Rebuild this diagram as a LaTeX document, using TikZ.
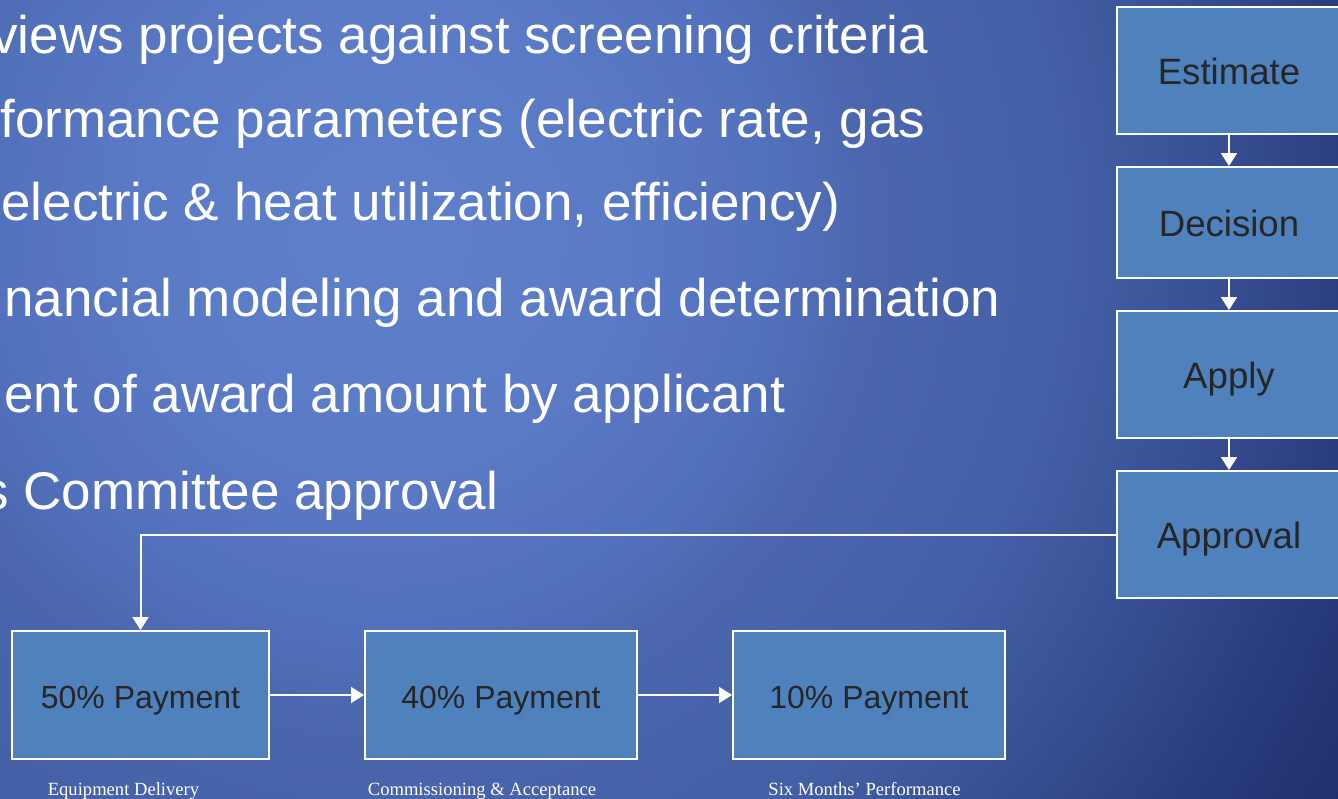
\documentclass[tikz,border=0pt]{standalone}
\usepackage{fontspec}
\setmainfont{Liberation Sans}
\newfontfamily\serifpart{Liberation Serif}
\usetikzlibrary{arrows.meta}
\definecolor{bgA}{RGB}{94,128,202}
\definecolor{bgB}{RGB}{90,122,197}
\definecolor{bgC}{RGB}{86,116,192}
\definecolor{bgD}{RGB}{82,113,188}
\definecolor{bgE}{RGB}{75,102,173}
\definecolor{bgF}{RGB}{68,96,166}
\definecolor{bgG}{RGB}{58,83,152}
\definecolor{bgH}{RGB}{35,53,115}
\definecolor{bgI}{RGB}{29,45,104}
\definecolor{boxfill}{RGB}{79,129,189}
\definecolor{boxtext}{RGB}{38,38,38}
%stops in bp, 25bp = radius of the circle below
\pgfdeclareradialshading{slidebg}{\pgfpoint{0bp}{0bp}}{color(0bp)=(bgA); color(5.2bp)=(bgB);
        color(6.9bp)=(bgC); color(8.3bp)=(bgD); color(10.2bp)=(bgE); color(14.2bp)=(bgF);
        color(16.7bp)=(bgG); color(21.9bp)=(bgH); color(24bp)=(bgI); color(50bp)=(bgI)}

\begin{document}
\begin{tikzpicture}[x=0.5pt,y=-0.5pt,%one unit is one pixel, y downwards
        stepbox/.style={draw=white,line width=1pt,fill=boxfill,text=boxtext,
                inner sep=0pt,text height=14pt,text depth=0pt,
                font=\fontsize{18.3}{22}\selectfont,
                minimum width=112pt,minimum height=63.5pt},
        paybox/.style={stepbox,font=\fontsize{16}{19}\selectfont,text height=13.5pt,
                minimum width=136pt,minimum height=64pt},
        flow/.style={draw=white,line width=1pt,-{Triangle[width=8pt,length=6.5pt]}},
        bullet/.style={text=white,anchor=base west,inner sep=0pt,
                font=\fontsize{26.5}{30}\selectfont},
        paynote/.style={text=white,anchor=base,inner sep=0pt,
                font=\serifpart\fontsize{9.3}{11}\selectfont}
                ]
\useasboundingbox (0,0) rectangle (1338,798);
\clip (0,0) rectangle (1338,798);
\shade[shading=slidebg] (380,230) circle [radius=1200];%slide background

% text of the slide, cut at the left edge
\node[bullet] (line1) at (-9,53)  {views projects against screening criteria};
\node[bullet] (line2) at (0,137)  {formance parameters (electric rate, gas};
\node[bullet] (line3) at (1,220)  {electric \& heat utilization, efficiency)};
\node[bullet] (line4) at (4,316)  {nancial modeling and award determination};
\node[bullet] (line5) at (4,412)  {ent of award amount by applicant};
\node[bullet] (line6) at (-18,509){s Committee approval};

% process steps
\node[stepbox] (estimate) at (1229,70.5)  {Estimate};
\node[stepbox,minimum height=55.5pt] (decision) at (1229,222.5) {Decision};
\node[stepbox] (apply)    at (1229,374.5) {Apply};
\node[stepbox] (approval) at (1229,534.5) {Approval};

% payments
\node[paybox,minimum width=128.5pt] (pay50) at (140.5,695) {50\% Payment};
\node[paybox] (pay40) at (501,695) {40\% Payment};
\node[paybox] (pay10) at (869,695) {10\% Payment};

\node[paynote] (note50) at (123.5,795) {Equipment Delivery};
\node[paynote] (note40) at (482,795)   {Commissioning \& Acceptance};
\node[paynote] (note10) at (864.5,795) {Six Months’ Performance};

\draw[flow] (estimate) -- (decision);
\draw[flow] (decision) -- (apply);
\draw[flow] (apply) -- (approval);
\draw[flow] (approval.west) -| (pay50.north);
\draw[flow] (pay50) -- (pay40);
\draw[flow] (pay40) -- (pay10);
\end{tikzpicture}
\end{document}
